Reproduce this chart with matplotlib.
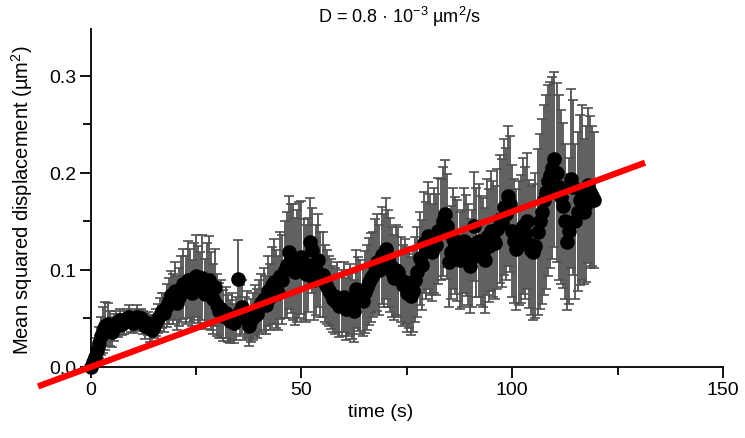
import matplotlib
matplotlib.use("Agg")
import matplotlib.pyplot as plt
import numpy as np
from matplotlib.ticker import MultipleLocator

plt.rcParams["font.family"] = ["Liberation Sans Narrow", "Liberation Sans", "DejaVu Sans"]
plt.rcParams["mathtext.default"] = "regular"

# time (s), one point every 0.5 s
time_s = np.arange(0, 120, 0.5)

msd = [
    0.000, 0.005, 0.010, 0.018, 0.025, 0.032, 0.038, 0.042, 0.044, 0.040,
    0.036, 0.041, 0.045, 0.043, 0.048, 0.044, 0.046, 0.050, 0.052, 0.047,
    0.045, 0.049, 0.052, 0.048, 0.050, 0.046, 0.042, 0.045, 0.040, 0.038,
    0.042, 0.046, 0.050, 0.054, 0.058, 0.056, 0.063, 0.068, 0.074, 0.070,
    0.078, 0.066, 0.072, 0.080, 0.085, 0.079, 0.090, 0.084, 0.076, 0.088,
    0.094, 0.085, 0.080, 0.092, 0.075, 0.086, 0.090, 0.078, 0.070, 0.082,
    0.064, 0.058, 0.060, 0.053, 0.056, 0.050, 0.047, 0.052, 0.045, 0.050,
    0.091, 0.058, 0.062, 0.050, 0.054, 0.042, 0.048, 0.052, 0.058, 0.055,
    0.062, 0.066, 0.070, 0.064, 0.078, 0.072, 0.084, 0.088, 0.080, 0.076,
    0.094, 0.090, 0.100, 0.105, 0.118, 0.112, 0.108, 0.098, 0.104, 0.110,
    0.113, 0.100, 0.096, 0.105, 0.129, 0.120, 0.090, 0.100, 0.110, 0.095,
    0.095, 0.086, 0.082, 0.078, 0.075, 0.070, 0.068, 0.072, 0.063, 0.066,
    0.072, 0.060, 0.066, 0.070, 0.063, 0.058, 0.080, 0.075, 0.072, 0.068,
    0.077, 0.082, 0.088, 0.092, 0.095, 0.104, 0.108, 0.100, 0.115, 0.110,
    0.122, 0.112, 0.105, 0.098, 0.092, 0.100, 0.098, 0.090, 0.084, 0.088,
    0.076, 0.082, 0.073, 0.078, 0.090, 0.098, 0.112, 0.105, 0.128, 0.120,
    0.135, 0.126, 0.118, 0.130, 0.126, 0.140, 0.142, 0.150, 0.158, 0.145,
    0.108, 0.118, 0.132, 0.125, 0.120, 0.110, 0.112, 0.130, 0.125, 0.116,
    0.104, 0.112, 0.145, 0.128, 0.130, 0.120, 0.118, 0.110, 0.134, 0.125,
    0.140, 0.132, 0.128, 0.142, 0.152, 0.148, 0.165, 0.158, 0.176, 0.168,
    0.140, 0.130, 0.121, 0.128, 0.132, 0.145, 0.138, 0.150, 0.127, 0.120,
    0.118, 0.125, 0.139, 0.150, 0.160, 0.172, 0.180, 0.192, 0.198, 0.205,
    0.214, 0.200, 0.185, 0.175, 0.166, 0.150, 0.129, 0.140, 0.194, 0.185,
    0.150, 0.160, 0.172, 0.180, 0.160, 0.168, 0.187, 0.180, 0.176, 0.172,
]

msd_err = [
    0.003, 0.005, 0.008, 0.012, 0.016, 0.020, 0.024, 0.025, 0.022, 0.018,
    0.015, 0.014, 0.013, 0.012, 0.012, 0.011, 0.012, 0.010, 0.012, 0.011,
    0.010, 0.011, 0.012, 0.011, 0.010, 0.012, 0.013, 0.012, 0.014, 0.013,
    0.012, 0.014, 0.015, 0.017, 0.018, 0.020, 0.022, 0.024, 0.025, 0.026,
    0.030, 0.028, 0.030, 0.034, 0.036, 0.035, 0.040, 0.038, 0.034, 0.040,
    0.042, 0.040, 0.038, 0.044, 0.036, 0.042, 0.045, 0.040, 0.036, 0.040,
    0.032, 0.028, 0.030, 0.026, 0.026, 0.024, 0.022, 0.024, 0.020, 0.022,
    0.040, 0.026, 0.028, 0.022, 0.024, 0.020, 0.022, 0.024, 0.026, 0.025,
    0.028, 0.030, 0.032, 0.030, 0.036, 0.034, 0.040, 0.044, 0.040, 0.038,
    0.045, 0.046, 0.050, 0.055, 0.058, 0.056, 0.060, 0.055, 0.058, 0.060,
    0.058, 0.052, 0.050, 0.048, 0.045, 0.044, 0.042, 0.046, 0.048, 0.044,
    0.044, 0.040, 0.038, 0.036, 0.036, 0.034, 0.034, 0.036, 0.032, 0.034,
    0.036, 0.032, 0.034, 0.036, 0.034, 0.032, 0.040, 0.038, 0.038, 0.036,
    0.042, 0.044, 0.045, 0.046, 0.044, 0.048, 0.050, 0.046, 0.050, 0.048,
    0.052, 0.050, 0.048, 0.046, 0.044, 0.046, 0.046, 0.044, 0.042, 0.044,
    0.040, 0.042, 0.040, 0.042, 0.044, 0.046, 0.048, 0.046, 0.052, 0.050,
    0.055, 0.052, 0.050, 0.054, 0.052, 0.055, 0.052, 0.056, 0.055, 0.054,
    0.046, 0.048, 0.052, 0.050, 0.052, 0.050, 0.050, 0.054, 0.052, 0.052,
    0.048, 0.050, 0.056, 0.056, 0.058, 0.056, 0.056, 0.054, 0.060, 0.058,
    0.062, 0.060, 0.058, 0.062, 0.066, 0.066, 0.070, 0.068, 0.072, 0.070,
    0.068, 0.064, 0.062, 0.064, 0.066, 0.070, 0.068, 0.070, 0.066, 0.066,
    0.070, 0.075, 0.085, 0.090, 0.095, 0.098, 0.100, 0.098, 0.096, 0.094,
    0.090, 0.092, 0.095, 0.090, 0.085, 0.080, 0.070, 0.075, 0.092, 0.090,
    0.080, 0.082, 0.088, 0.090, 0.075, 0.080, 0.080, 0.078, 0.072, 0.070,
]

# linear fit, MSD = 2 D t with D = 0.8e-3 um^2/s
fit_t = [-12.5, 131.5]
fit_slope = 0.0016

fig = plt.figure(figsize=(7.45, 4.39), dpi=100)
ax = fig.add_axes([0.051, 0.1175, 0.9195, 0.814])

ax.errorbar(time_s, msd, yerr=msd_err, fmt="o", color="black", ms=9.5,
            ecolor="#505050", elinewidth=1.3, capsize=3.6, capthick=1.2,
            zorder=2)
ax.plot(fit_t, [fit_slope * t for t in fit_t], color="#ff0000", lw=4.5,
        solid_capstyle="butt", zorder=3, clip_on=False)

ax.set_xlim(-12.5, 150)
ax.set_ylim(-0.02, 0.348)

ax.spines["left"].set_position(("data", 0))
ax.spines["bottom"].set_position(("data", 0))
ax.spines["right"].set_visible(False)
ax.spines["top"].set_visible(False)
for sp in ("left", "bottom"):
    ax.spines[sp].set_linewidth(1.3)
ax.spines["bottom"].set_bounds(0, 150)
ax.spines["left"].set_bounds(0, 0.348)

ax.xaxis.set_minor_locator(MultipleLocator(25))
ax.yaxis.set_minor_locator(MultipleLocator(0.05))
ax.set_xticks([0, 50, 100, 150])
ax.set_yticks([0.0, 0.1, 0.2, 0.3])
ax.set_yticklabels(["0.0", "0.1", "0.2", "0.3"])
ax.tick_params(which="major", direction="out", length=8, width=1.3,
               labelsize=14, pad=2)
ax.tick_params(which="minor", direction="out", length=6, width=1.3)

ax.set_xlabel("time (s)", fontsize=14, labelpad=4)
fig.text(22 / 745, 1 - 200 / 439, "Mean squared displacement (µm$^2$)",
         rotation=90, ha="center", va="center", fontsize=14.5)

fig.text(400 / 745, 1 - 17 / 439, "D = 0.8 · 10$^{-3}$ µm$^2$/s",
         ha="center", va="center", fontsize=13)

fig.savefig("out.png", dpi=100)
